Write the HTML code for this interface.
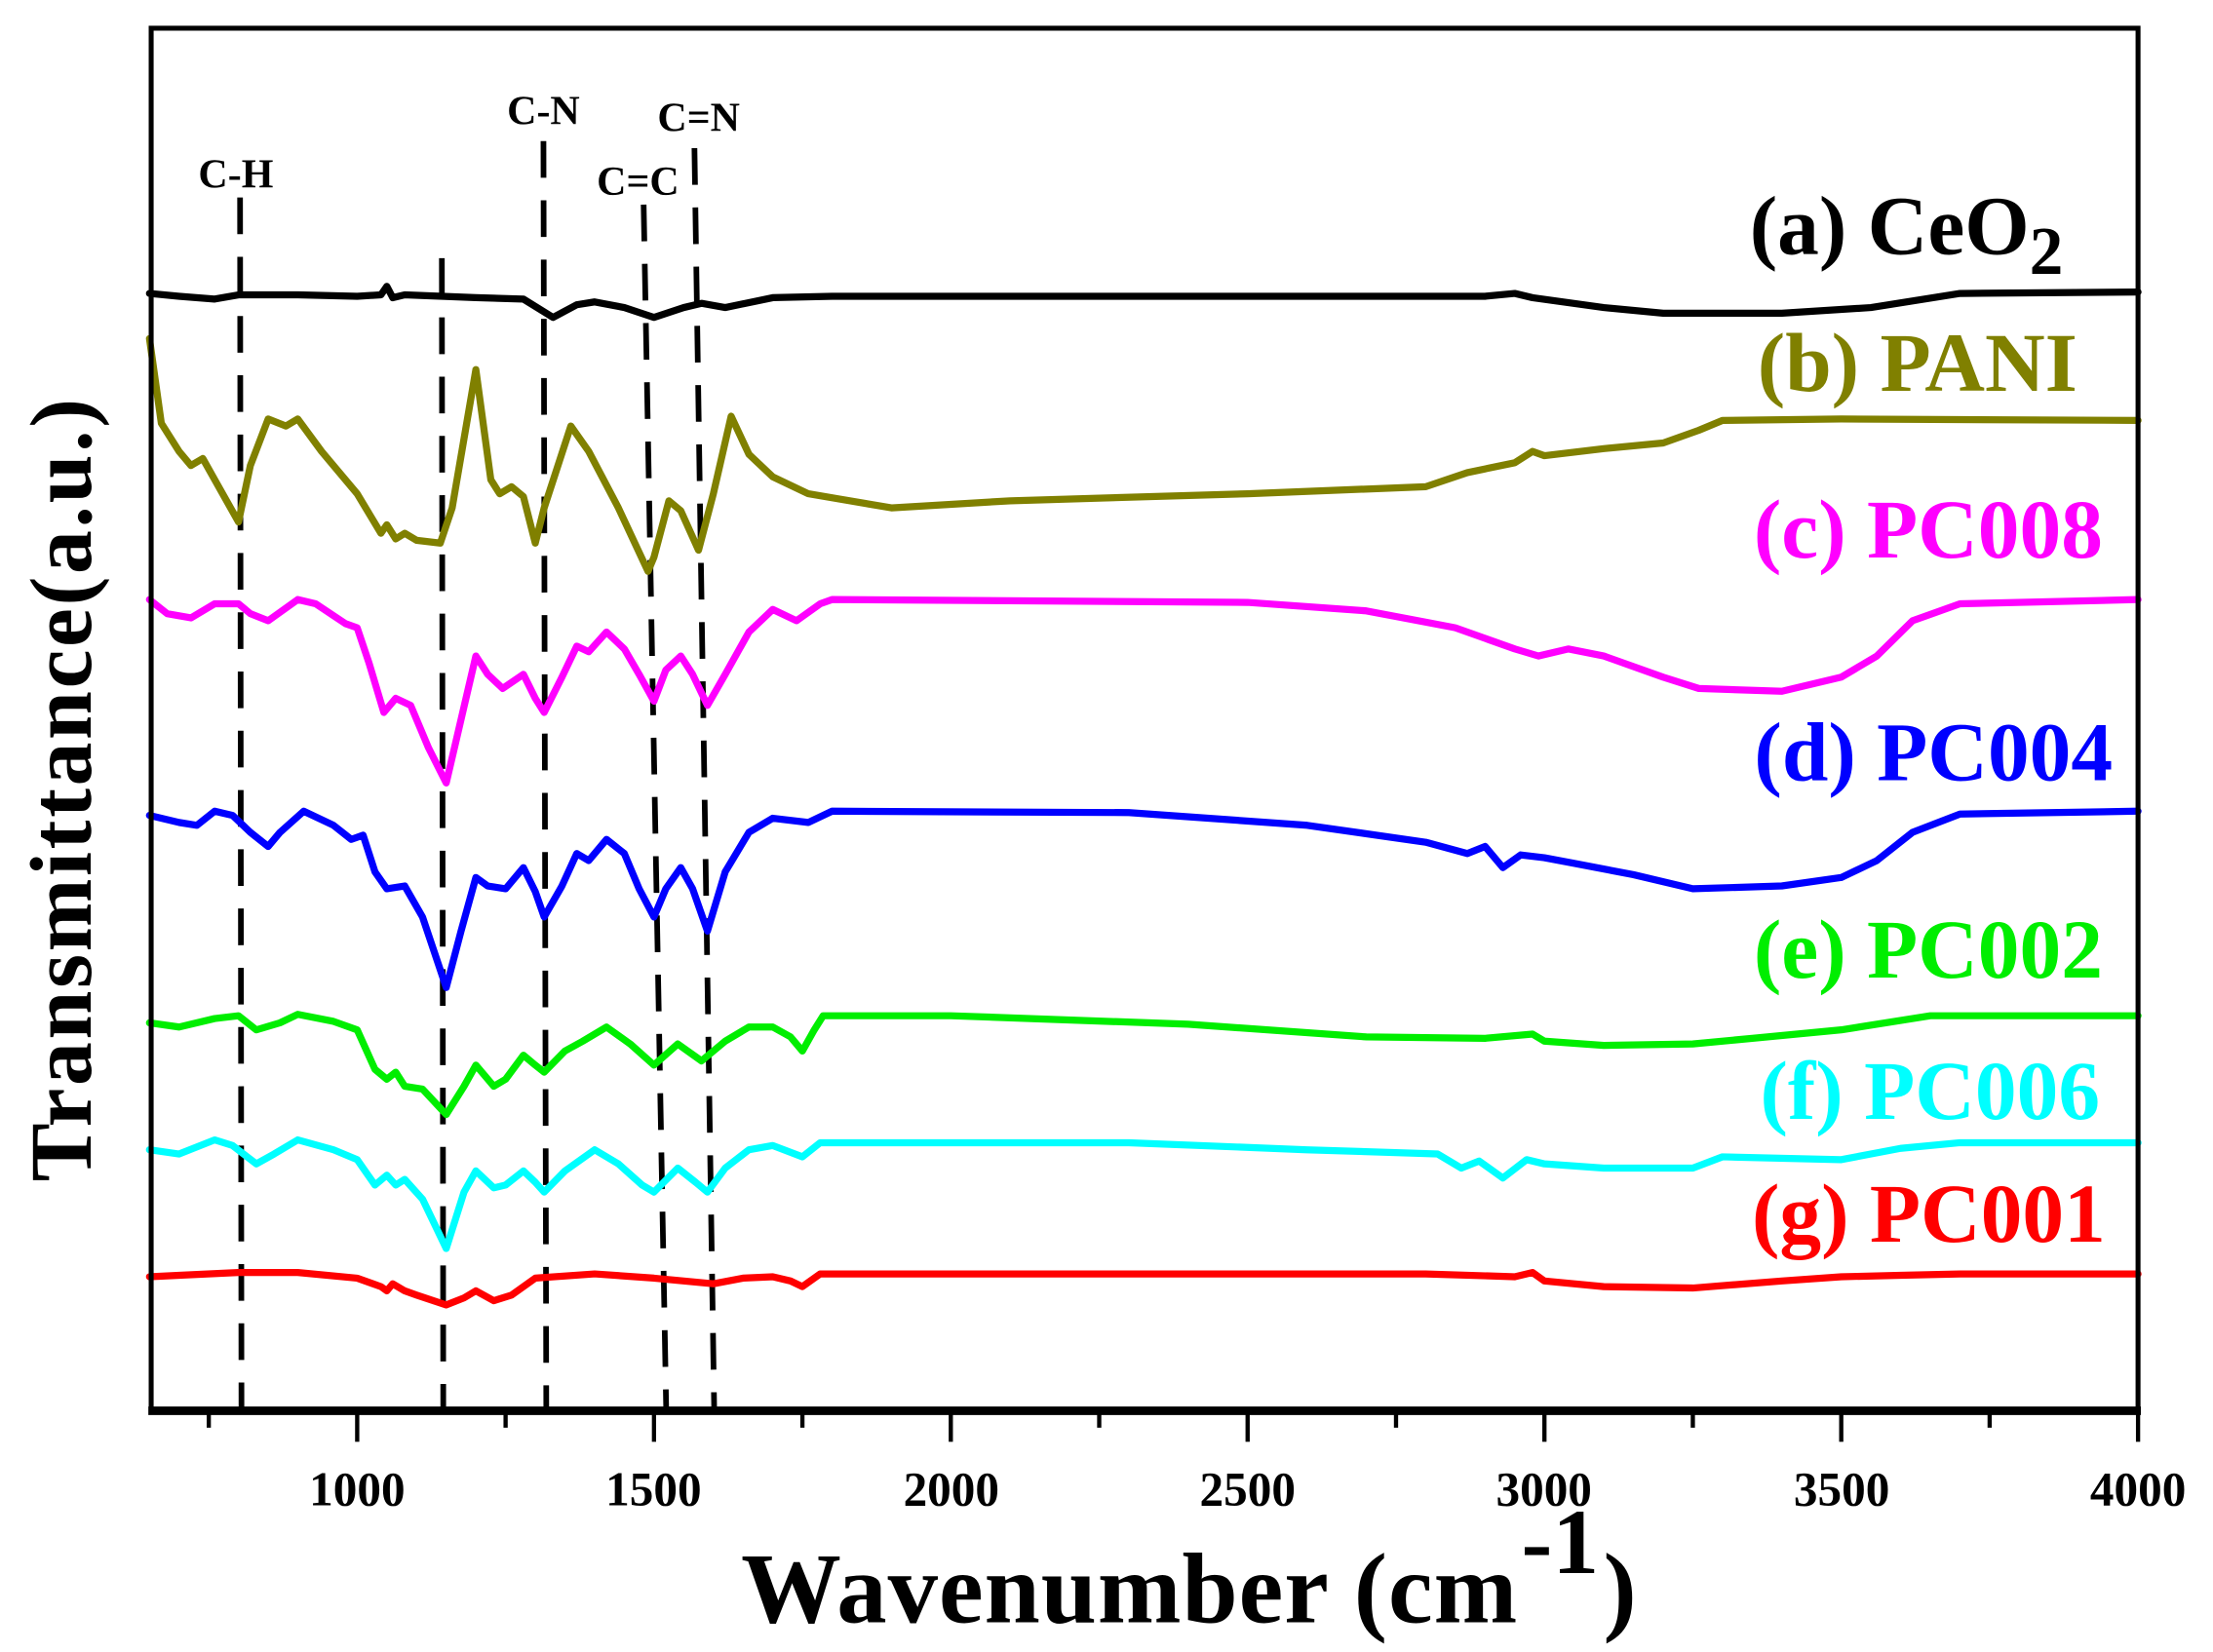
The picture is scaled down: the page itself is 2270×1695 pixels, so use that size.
<!DOCTYPE html>
<html><head><meta charset="utf-8"><style>
html,body{margin:0;padding:0;background:#fff;}
svg{display:block;}
text{font-family:"Liberation Serif",serif;font-weight:bold;}
</style></head><body>
<svg id="s" width="2270" height="1695" viewBox="0 0 1568 1171" xmlns="http://www.w3.org/2000/svg">
<rect x="0" y="0" width="1568" height="1171" fill="#fff"/>
<g id="dash" stroke="#000" stroke-width="4" stroke-dasharray="26,16" fill="none">
<line x1="170" y1="140" x2="171" y2="1000"/>
<line x1="313" y1="183" x2="314" y2="1000"/>
<line x1="385" y1="100" x2="387" y2="1000"/>
<line x1="456" y1="145" x2="472" y2="1000"/>
<line x1="492" y1="105" x2="506" y2="1000"/>
</g>
<g font-size="29" text-anchor="middle">
<text x="167" y="133">C-H</text>
<text x="385" y="88">C-N</text>
<text x="452" y="138">C=C</text>
<text x="495" y="93">C=N</text>
</g>
<g id="curves" fill="none" stroke-width="5" stroke-linejoin="round" stroke-linecap="round"></g>
<rect x="107" y="20" width="1408" height="980" fill="none" stroke="#000" stroke-width="3.5"/>
<line x1="105" y1="1000" x2="1517" y2="1000" stroke="#000" stroke-width="6"/>
<g id="ticks" stroke="#000" stroke-width="3"></g>
<g font-size="34" text-anchor="middle">
<text x="253" y="1067">1000</text><text x="463" y="1067">1500</text><text x="674" y="1067">2000</text>
<text x="884" y="1067">2500</text><text x="1094" y="1067">3000</text><text x="1305" y="1067">3500</text>
<text x="1515" y="1067">4000</text>
</g>
<text x="525" y="1150" font-size="71" textLength="550">Wavenumber (cm</text>
<text x="1078" y="1115" font-size="66">-1</text>
<text x="1136" y="1150" font-size="71">)</text>
<text transform="translate(64,560) rotate(-90)" font-size="62" text-anchor="middle" textLength="555">Transmittance(a.u.)</text>
<g font-size="59" text-anchor="end">
<text x="1462" y="180" fill="#000">(a) CeO<tspan font-size="48" dy="14">2</tspan></text>
<text x="1472" y="277" fill="#808000">(b) PANI</text>
<text x="1490" y="395" fill="#ff00ff">(c) PC008</text>
<text x="1497" y="553" fill="#0000ff">(d) PC004</text>
<text x="1490" y="693" fill="#00ee00">(e) PC002</text>
<text x="1488" y="793" fill="#00ffff">(f) PC006</text>
<text x="1492" y="880" fill="#ff0000">(g) PC001</text>
</g>
</svg>
<script>
var X=function(w){return 253+(w-1000)*0.42067;};
var D=[
["#000",[[650,208],[700,210],[760,212],[800,209],[900,209],[1000,210],[1040,209],[1050,203],[1060,211],[1080,209],[1200,211],[1280,212],[1330,225],[1370,216],[1400,214],[1450,218],[1500,225],[1550,218],[1580,215],[1620,218],[1700,211],[1800,210],[2500,210],[2900,210],[2950,208],[2980,211],[3100,218],[3200,222],[3400,222],[3550,218],[3700,208],[4000,207]]],
["#808000",[[650,240],[670,300],[700,320],[720,330],[740,325],[760,340],[800,370],[820,330],[850,297],[880,302],[900,297],[940,320],[1000,350],[1040,378],[1050,372],[1065,382],[1080,378],[1100,383],[1140,385],[1160,360],[1200,262],[1225,340],[1240,350],[1260,345],[1280,352],[1300,385],[1315,360],[1360,302],[1390,320],[1440,360],[1490,405],[1500,395],[1525,355],[1545,362],[1575,390],[1600,350],[1630,295],[1660,322],[1700,338],[1760,350],[1900,360],[2100,355],[2500,350],[2800,345],[2870,335],[2950,328],[2980,320],[3000,323],[3100,318],[3200,314],[3260,305],[3300,298],[3500,297],[4000,298]]],
["#ff00ff",[[650,425],[680,435],[720,438],[760,428],[800,428],[820,435],[850,440],[900,425],[930,428],[980,442],[1000,445],[1020,470],[1045,505],[1065,495],[1090,500],[1120,530],[1150,555],[1175,510],[1200,465],[1220,478],[1245,488],[1280,478],[1300,495],[1315,505],[1345,480],[1370,458],[1390,462],[1420,448],[1450,460],[1475,478],[1500,497],[1520,475],[1545,465],[1565,478],[1590,500],[1620,478],[1660,448],[1700,432],[1740,440],[1780,428],[1800,425],[2500,427],[2700,433],[2850,445],[2950,460],[2990,465],[3040,460],[3100,465],[3200,480],[3260,488],[3400,490],[3500,480],[3560,465],[3620,440],[3700,428],[4000,425]]],
["#0000ff",[[650,578],[700,583],[730,585],[760,575],[790,578],[820,590],[850,600],[870,590],[910,575],[960,585],[990,595],[1010,592],[1030,618],[1050,630],[1080,628],[1110,650],[1150,700],[1175,660],[1200,622],[1220,628],[1250,630],[1280,615],[1300,632],[1315,650],[1345,628],[1370,605],[1390,610],[1420,595],[1450,605],[1475,630],[1500,650],[1520,630],[1545,615],[1565,630],[1590,660],[1620,618],[1660,590],[1700,580],[1760,583],[1800,575],[2300,576],[2600,585],[2800,597],[2870,605],[2900,600],[2930,615],[2960,606],[3000,608],[3050,612],[3150,620],[3250,630],[3400,628],[3500,622],[3560,610],[3620,590],[3700,577],[4000,575]]],
["#00ee00",[[650,725],[700,728],[760,722],[800,720],[830,730],[870,725],[900,719],[960,724],[1000,730],[1030,758],[1050,765],[1065,760],[1080,770],[1110,772],[1150,790],[1180,770],[1200,755],[1230,770],[1250,765],[1280,748],[1300,755],[1315,760],[1350,745],[1380,738],[1420,728],[1460,740],[1500,755],[1540,740],[1580,752],[1620,738],[1660,728],[1700,728],[1730,735],[1750,745],[1770,730],[1785,720],[2000,720],[2400,726],[2700,735],[2900,736],[2980,733],[3000,738],[3100,741],[3250,740],[3350,736],[3500,730],[3650,720],[4000,720]]],
["#00ffff",[[650,815],[700,818],[760,808],[790,812],[830,825],[860,818],[900,808],[960,815],[1000,822],[1030,840],[1050,833],[1065,840],[1080,836],[1110,850],[1150,885],[1180,845],[1200,830],[1230,842],[1250,840],[1280,830],[1300,838],[1315,845],[1350,830],[1400,815],[1440,825],[1480,840],[1500,845],[1540,828],[1570,838],[1590,845],[1620,828],[1660,815],[1700,812],[1750,820],[1780,810],[2300,810],[2600,815],[2820,818],[2860,828],[2890,823],[2930,835],[2970,822],[3000,825],[3100,828],[3250,828],[3300,820],[3500,822],[3600,814],[3700,810],[4000,810]]],
["#ff0000",[[650,905],[700,904],[800,902],[900,902],[1000,906],[1040,912],[1050,915],[1060,910],[1080,915],[1100,918],[1150,925],[1180,920],[1200,915],[1230,922],[1260,918],[1300,906],[1400,903],[1500,906],[1600,910],[1650,906],[1700,905],[1730,908],[1750,912],[1780,903],[2800,903],[2950,905],[2980,902],[3000,908],[3100,912],[3250,913],[3400,908],[3500,905],[3600,904],[3700,903],[4000,903]]]
];
var g=document.getElementById('curves'),ns="http://www.w3.org/2000/svg";
D.forEach(function(c){var p=document.createElementNS(ns,'polyline');p.setAttribute('stroke',c[0]);
p.setAttribute('points',c[1].map(function(q){return X(q[0]).toFixed(1)+','+q[1];}).join(' '));g.appendChild(p);});
var t=document.getElementById('ticks');
for(var w=750;w<=4000;w+=250){var l=document.createElementNS(ns,'line');var x=X(w);l.setAttribute('x1',x);l.setAttribute('x2',x);l.setAttribute('y1',1000);l.setAttribute('y2',w%500==0?1022:1012);t.appendChild(l);}
</script>
</body></html>
